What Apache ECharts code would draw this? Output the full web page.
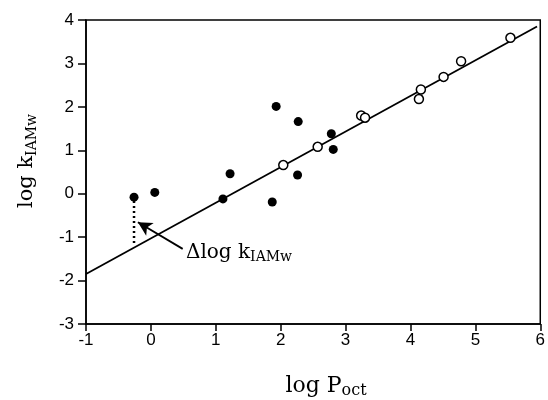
<!DOCTYPE html>
<html>
<head>
<meta charset="utf-8">
<script src="https://cdn.jsdelivr.net/npm/echarts@6/dist/echarts.min.js"></script>
<style>
  html, body { margin: 0; padding: 0; background: #fff; }
  #main { width: 548px; height: 400px; }
</style>
</head>
<body>
<div id="main"></div>
<script>
// solid circles
const filledX = [-0.26, 0.06, 1.11, 1.87, 1.22, 1.93, 2.27, 2.26, 2.78, 2.81];
const filledY = [-0.08, 0.03, -0.12, -0.19, 0.46, 2.01, 1.66, 0.43, 1.38, 1.02];
// open circles
const openX = [2.04, 2.57, 3.24, 3.30, 4.16, 4.13, 4.51, 4.78, 5.54];
const openY = [0.66, 1.08, 1.80, 1.75, 2.40, 2.18, 2.69, 3.05, 3.59];
// regression line ends
const fitX = [-1, 5.95];
const fitY = [-1.85, 3.85];
// deviation marker (dotted) and arrow
const devX = [-0.26, -0.26];
const devY = [-0.17, -1.2];
const arrowFrom = [0.49, -1.27];
const arrowTo = [-0.20, -0.655];
const labelAt = [0.54, -1.36];
const xTicks = [-1, 0, 1, 2, 3, 4, 5, 6];
const yTicks = [-3, -2, -1, 0, 1, 2, 3, 4];

const pair = (xs, ys) => xs.map((x, i) => [x, ys[i]]);

const serif = 'DejaVu Serif';
const sans = 'Liberation Sans';

const chart = echarts.init(document.getElementById('main'));

const option = {
  animation: false,
  backgroundColor: '#fff',
  grid: {
    left: 86, right: 7, top: 20, bottom: 76,
    show: true, borderColor: '#000', borderWidth: 1.5
  },
  xAxis: {
    type: 'value',
    min: xTicks[0], max: xTicks[xTicks.length - 1], interval: 1,
    axisLine: { onZero: false, lineStyle: { color: '#000', width: 1.5 } },
    axisTick: { show: true, inside: false, length: 7, lineStyle: { color: '#000', width: 1.5 } },
    axisLabel: { color: '#000', fontFamily: sans, fontSize: 17, margin: 8 },
    splitLine: { show: false }
  },
  yAxis: {
    type: 'value',
    min: yTicks[0], max: yTicks[yTicks.length - 1], interval: 1,
    axisLine: { onZero: false, lineStyle: { color: '#000', width: 1.5 } },
    axisTick: { show: true, inside: false, length: 8, lineStyle: { color: '#000', width: 1.5 } },
    axisLabel: { color: '#000', fontFamily: sans, fontSize: 17, margin: 12 },
    splitLine: { show: false }
  },
  graphic: [
    {
      type: 'text', x: 326, y: 386,
      style: {
        text: '{a|log P}{b|oct}',
        align: 'center', verticalAlign: 'middle',
        rich: {
          a: { fontFamily: serif, fontSize: 22, fill: '#000' },
          b: { fontFamily: serif, fontSize: 16, fill: '#000', padding: [10, 0, 0, 0] }
        }
      }
    },
    {
      type: 'text', x: 27, y: 161, rotation: Math.PI / 2,
      style: {
        text: '{a|log k}{b|IAMw}',
        align: 'center', verticalAlign: 'middle',
        rich: {
          a: { fontFamily: serif, fontSize: 21, fill: '#000' },
          b: { fontFamily: serif, fontSize: 14, fill: '#000', padding: [10, 0, 0, 0] }
        }
      }
    }
  ],
  series: [
    {
      type: 'line',
      data: pair(fitX, fitY),
      showSymbol: false,
      lineStyle: { color: '#000', width: 1.8 },
      z: 2
    },
    {
      type: 'line',
      data: pair(devX, devY),
      showSymbol: false,
      lineStyle: { color: '#000', width: 2.5, type: [2, 3] },
      z: 2,
      markLine: {
        silent: true,
        symbol: ['none', 'arrow'],
        symbolSize: [11, 14],
        lineStyle: { color: '#000', width: 1.8, type: 'solid' },
        label: { show: false },
        data: [[{ coord: arrowFrom }, { coord: arrowTo }]]
      }
    },
    {
      type: 'scatter',
      data: pair(filledX, filledY),
      symbol: 'circle',
      symbolSize: 9,
      itemStyle: { color: '#000', opacity: 1 },
      z: 3
    },
    {
      type: 'scatter',
      data: pair(openX, openY),
      symbol: 'circle',
      symbolSize: 9,
      itemStyle: { color: '#fff', borderColor: '#000', borderWidth: 1.5, opacity: 1 },
      z: 4
    },
    {
      type: 'scatter',
      data: [labelAt],
      symbolSize: 0,
      silent: true,
      itemStyle: { opacity: 1 },
      label: {
        show: true,
        position: 'right',
        distance: 0,
        formatter: '{a|\u0394log k}{b|IAMw}',
        rich: {
          a: { fontFamily: serif, fontSize: 20, color: '#000' },
          b: { fontFamily: serif, fontSize: 14, color: '#000', padding: [10, 0, 0, 0] }
        }
      }
    }
  ]
};

chart.setOption(option);
</script>
</body>
</html>
